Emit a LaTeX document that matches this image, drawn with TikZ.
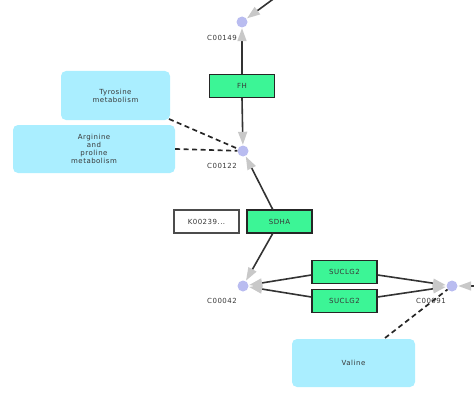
\documentclass[tikz,border=0pt]{standalone}
\usepackage{fontspec}
\setmainfont{DejaVu Sans}
\newfontfamily\lblfont[LetterSpace=7]{DejaVu Sans}
\usetikzlibrary{arrows.meta}
\definecolor{gene}{RGB}{60,245,150}
\definecolor{path}{RGB}{170,238,255}
\definecolor{cpd}{RGB}{185,188,240}
\definecolor{tip}{RGB}{200,200,200}
\definecolor{txt}{RGB}{55,55,55}
\tikzset{
  x=1pt,y=-1pt,
  every node/.style={font=\lblfont\fontsize{7}{8.2}\selectfont, text=txt},
  genebox/.style={draw=black!85, line width=1.4pt, fill=gene, minimum width=65pt, minimum height=23pt, inner sep=0pt},
  orthobox/.style={draw=black!70, line width=1.4pt, fill=white, minimum width=65pt, minimum height=23pt, inner sep=0pt},
  pathbox/.style={fill=path, rounded corners=5pt, align=center, inner sep=0pt},
  cpdnode/.style={circle, fill=cpd, minimum size=11pt, inner sep=0pt},
  rxn/.style={draw=black!80, line width=1.6pt, -{Triangle[length=13pt,width=9pt,color=tip]}, shorten >=0.5pt},
  link/.style={draw=black!85, line width=1.7pt, dash pattern=on 5pt off 3.5pt},
  lbl/.style={}
}
\begin{document}
\begin{tikzpicture}
\useasboundingbox (0,0) rectangle (474,412);
% compounds
\node[cpdnode] (c149) at (242,22) {};
\node[lbl] at (222,38) {C00149};
\node[cpdnode] (c122) at (243,151) {};
\node[lbl] at (222,166) {C00122};
\node[cpdnode] (c042) at (243,286) {};
\node[lbl] at (222,301) {C00042};
\node[cpdnode] (c091) at (452,286) {};
\node[lbl] at (431,301) {C00091};
% pathways
\node[pathbox, minimum width=109pt, minimum height=49pt] (tyr) at (115.5,95.5) {Tyrosine\\metabolism};
\node[pathbox, minimum width=162pt, minimum height=48pt] (arg) at (94,149) {Arginine\\and\\proline\\metabolism};
\node[pathbox, minimum width=123pt, minimum height=48pt] (val) at (353.5,363) {Valine};
% genes
\node[genebox] (fh) at (242,86) {FH};
\node[orthobox] (k239) at (206.5,221.5) {K00239...};
\node[genebox] (sdha) at (279.5,221.5) {SDHA};
\node[genebox] (su1) at (344.5,272) {SUCLG2};
\node[genebox] (su2) at (344.5,301) {SUCLG2};
% free ends
\coordinate (topin) at (276,-3);
\coordinate (rightin) at (490,286);
% reactions
\draw[rxn] (topin) -- (c149);
\draw[rxn] (fh.north) -- (c149);
\draw[rxn] (fh.south) -- (c122);
\draw[rxn] (273,210) -- (c122);
\draw[rxn] (273,233) -- (c042);
\draw[rxn] (su1.west) ++(0,3) -- (c042);
\draw[rxn] (su2.west) ++(0,-4) -- (c042);
\draw[rxn] (su1.east) ++(0,3) -- (c091);
\draw[rxn] (su2.east) ++(0,-4) -- (c091);
\draw[rxn] (rightin) -- (c091);
% links
\draw[link] (169,119) -- (c122);
\draw[link] (arg.east) -- (c122);
\draw[link] (385,338) -- (c091);
\end{tikzpicture}
\end{document}
